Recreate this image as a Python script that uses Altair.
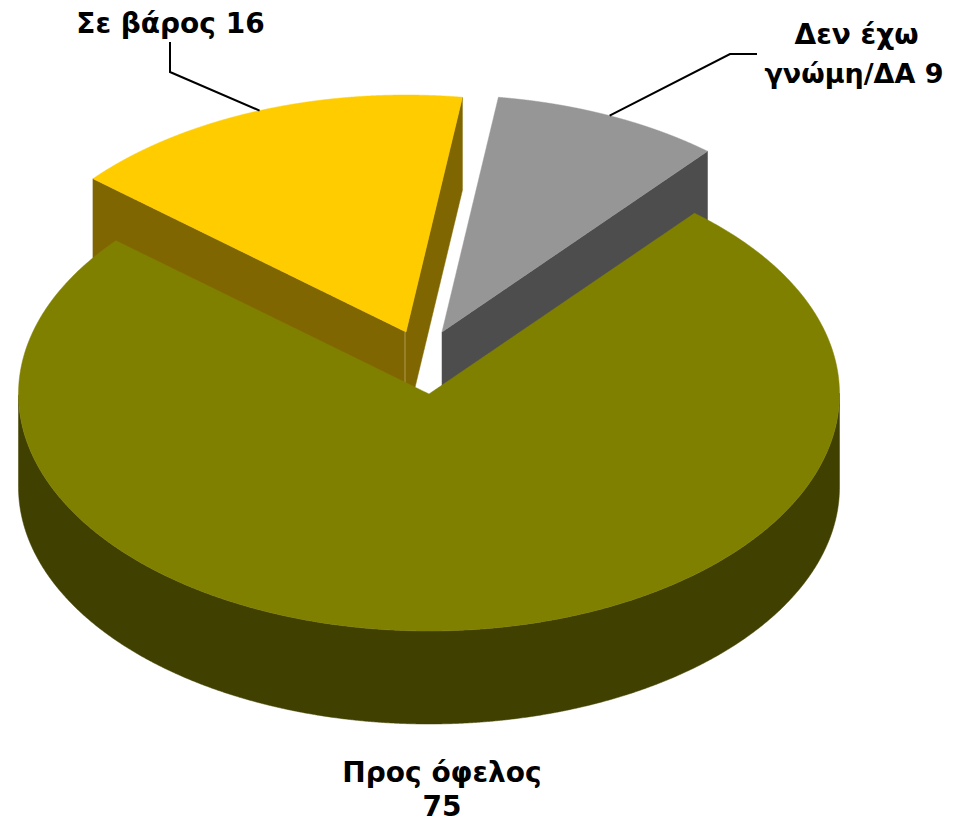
import altair as alt
import numpy as np
import pandas as pd

names = ["Προς όφελος", "Σε βάρος", "Δεν έχω γνώμη/ΔΑ"]
values = [75, 16, 9]
top_colors = ["#808000", "#ffcc00", "#969696"]
side_colors = ["#404000", "#806600", "#4d4d4d"]
centers = [(429, 394), (406, 332), (442, 332)]
leader_knees = [None, [(170, 72), (170, 42)], [(730, 54), (757, 54)]]
label_lines = [
    ("Προς όφελος", 442, 774, 28),
    ("75", 442, 808, 28),
    ("Σε βάρος 16", 170.5, 25, 28),
    ("Δεν έχω", 856.5, 36, 28),
    ("γνώμη/ΔΑ 9", 854, 75, 27),
]

RX, RY, DEPTH = 410.5, 237, 93
START_ANGLE = 40.3
FONT = "DejaVu Sans"


def sector_outline(cx, cy, a0, a1):
    ang = np.radians(np.linspace(a0, a1, 361))
    xs = cx + RX * np.sin(ang)
    ys = cy - RY * np.cos(ang)
    return np.r_[cx, xs], np.r_[cy, ys]


def bounds(cx, cy, a0, a1):
    px, py = sector_outline(cx, cy, a0, a1)
    qx, qy = np.roll(px, -1), np.roll(py, -1)
    grid = np.unique(np.r_[px, np.linspace(px.min(), px.max(), 500)])
    rows = []
    for x in grid:
        hits = []
        for x0, y0, x1, y1 in zip(px, py, qx, qy):
            if min(x0, x1) <= x <= max(x0, x1):
                if x0 == x1:
                    hits += [y0, y1]
                else:
                    hits.append(y0 + (y1 - y0) * (x - x0) / (x1 - x0))
        rows.append((x, min(hits), max(hits)))
    return pd.DataFrame(rows, columns=["x", "upper", "lower"])


xs = alt.Scale(domain=[8, 946], range=[0, 938])
ys = alt.Scale(domain=[8, 819], range=[0, 811])
X = alt.X("x:Q", scale=xs, axis=None)
Y = alt.Y("y:Q", scale=ys, axis=None)

angles = []
a = START_ANGLE
for v in values:
    angles.append((a, a + 360 * v / sum(values)))
    a += 360 * v / sum(values)


def faces(i):
    cx, cy = centers[i]
    b = bounds(cx, cy, *angles[i])
    side = pd.DataFrame({"x": b.x, "y": b.lower, "y2": b.lower + DEPTH})
    top = pd.DataFrame({"x": b.x, "y": b.upper, "y2": b.lower})
    mk = lambda d, c: alt.Chart(d).mark_area(color=c, interpolate="linear", stroke=c, strokeWidth=0.5).encode(
        x=X, y=Y, y2="y2:Q"
    )
    return mk(side, side_colors[i]), mk(top, top_colors[i])


layers = []
for i in [2, 1, 0]:
    side, top = faces(i)
    if i == 1:
        cx, cy = centers[i]
        seam = alt.Chart(pd.DataFrame({"x": [cx - 1], "y": [cy], "y2": [cy + DEPTH]})).mark_rule(
            color="#b09a50", strokeWidth=1
        ).encode(x=X, y=Y, y2="y2:Q")
        layers += [side, seam, top]
    else:
        layers += [side, top]

for i, knees in enumerate(leader_knees):
    if knees:
        cx, cy = centers[i]
        mid = np.radians(sum(angles[i]) / 2)
        pts = [(cx + RX * np.sin(mid), cy - RY * np.cos(mid))] + knees
        d = pd.DataFrame(pts, columns=["x", "y"]).assign(o=range(len(pts)))
        layers.append(
            alt.Chart(d).mark_line(color="black", strokeWidth=2).encode(x=X, y=Y, order="o:Q")
        )

for text, lx, ly, size in label_lines:
    d = pd.DataFrame({"t": [text], "x": [lx], "y": [ly]})
    layers.append(
        alt.Chart(d).mark_text(
            font=FONT, fontSize=size, fontWeight="bold", color="black", align="center", baseline="middle"
        ).encode(x=X, y=Y, text="t:N")
    )

chart = (
    alt.layer(*layers)
    .properties(width=938, height=811, padding=0, autosize=alt.AutoSizeParams(type="none"))
    .configure_view(stroke=None)
)
chart.save("out.html", embed_options={"renderer": "svg", "actions": False})
